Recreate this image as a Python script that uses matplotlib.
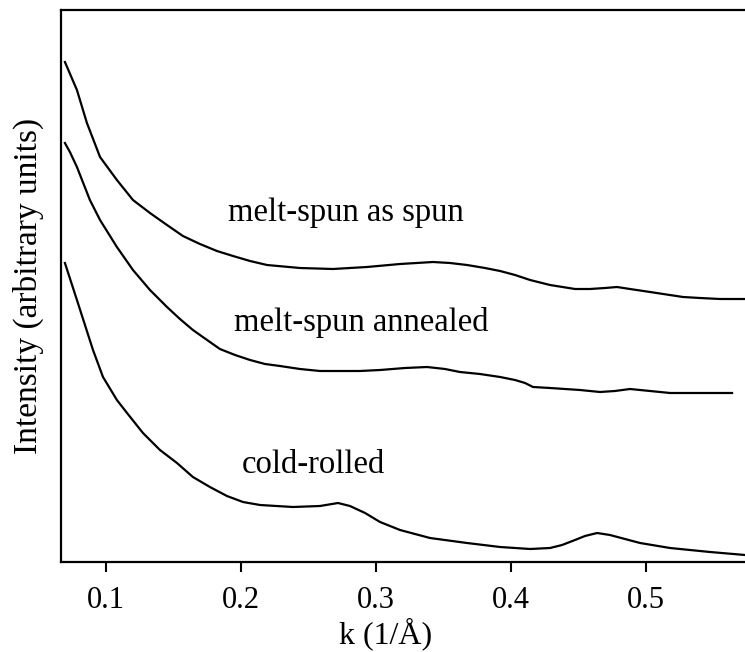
import matplotlib
matplotlib.use("Agg")
import matplotlib.pyplot as plt

# k (1/A) and intensity (arbitrary units)
k_spun = [0.0696, 0.0785, 0.0859, 0.0956, 0.1081, 0.1200, 0.1326, 0.1452, 0.1570, 0.1696,
          0.1822, 0.1941, 0.2067, 0.2193, 0.2437, 0.2681, 0.2933, 0.3178, 0.3422, 0.3548,
          0.3674, 0.3807, 0.3919, 0.4030, 0.4141, 0.4289, 0.4474, 0.4585, 0.4696, 0.4785,
          0.4881, 0.5030, 0.5274, 0.5400, 0.5548, 0.5733]
i_spun = [5.00, 4.72, 4.39, 4.05, 3.82, 3.62, 3.49, 3.37, 3.26, 3.18,
          3.11, 3.06, 3.01, 2.97, 2.94, 2.93, 2.95, 2.98, 3.00, 2.99,
          2.97, 2.94, 2.91, 2.87, 2.82, 2.77, 2.73, 2.73, 2.74, 2.75,
          2.73, 2.70, 2.65, 2.64, 2.63, 2.63]

k_ann = [0.0696, 0.0733, 0.0785, 0.0881, 0.0956, 0.1081, 0.1200, 0.1326, 0.1452, 0.1548,
         0.1644, 0.1770, 0.1844, 0.1956, 0.2067, 0.2178, 0.2289, 0.2437, 0.2585, 0.2733,
         0.2881, 0.3030, 0.3215, 0.3378, 0.3511, 0.3622, 0.3770, 0.3919, 0.4030, 0.4104,
         0.4163, 0.4289, 0.4511, 0.4659, 0.4770, 0.4881, 0.5030, 0.5178, 0.5400, 0.5637]
i_ann = [4.19, 4.10, 3.95, 3.62, 3.42, 3.15, 2.92, 2.72, 2.55, 2.43,
         2.32, 2.20, 2.13, 2.07, 2.02, 1.98, 1.96, 1.93, 1.91, 1.91,
         1.91, 1.92, 1.94, 1.95, 1.93, 1.90, 1.88, 1.85, 1.82, 1.79,
         1.75, 1.74, 1.72, 1.70, 1.71, 1.73, 1.71, 1.69, 1.69, 1.69]

k_cold = [0.0696, 0.0785, 0.0904, 0.0978, 0.1081, 0.1156, 0.1274, 0.1400, 0.1526, 0.1644,
          0.1770, 0.1896, 0.2015, 0.2141, 0.2385, 0.2585, 0.2719, 0.2807, 0.2919, 0.3030,
          0.3178, 0.3400, 0.3674, 0.3919, 0.4141, 0.4289, 0.4378, 0.4474, 0.4548, 0.4637,
          0.4733, 0.4844, 0.4956, 0.5178, 0.5474, 0.5733]
i_cold = [2.99, 2.62, 2.12, 1.85, 1.62, 1.49, 1.29, 1.12, 0.99, 0.85,
          0.75, 0.66, 0.60, 0.57, 0.55, 0.56, 0.59, 0.56, 0.49, 0.40,
          0.32, 0.24, 0.19, 0.15, 0.13, 0.14, 0.17, 0.22, 0.26, 0.29,
          0.27, 0.23, 0.19, 0.14, 0.10, 0.07]

labels = ["melt-spun as spun", "melt-spun annealed", "cold-rolled"]
label_pos = [(0.1904, 3.49), (0.1948, 2.39), (0.2007, 0.97)]
xticks = [0.1, 0.2, 0.3, 0.4, 0.5]

plt.rcParams['font.family'] = ['Liberation Serif', 'DejaVu Serif']

fig = plt.figure(figsize=(7.45, 6.52), dpi=100)
ax = fig.add_axes([61 / 745, 90 / 652, 684 / 745, 552 / 652])

for kk, ii in [(k_spun, i_spun), (k_ann, i_ann), (k_cold, i_cold)]:
    ax.plot(kk, ii, color='black', linewidth=1.6, solid_joinstyle='round')

for txt, (x, y) in zip(labels, label_pos):
    ax.text(x, y, txt, ha='left', va='center', fontsize=23.5)

ax.set_xlim(0.0667, 0.5733)
ax.set_ylim(0, 5.52)
ax.set_xticks(xticks)
ax.set_xticklabels([str(t) for t in xticks])
ax.set_yticks([])
ax.spines['right'].set_visible(False)
for s in ['left', 'top', 'bottom']:
    ax.spines[s].set_linewidth(1.6)
ax.tick_params(axis='x', direction='out', length=7, width=1.5, labelsize=22, pad=10)

ax.set_xlabel('k (1/Å)', fontsize=23)
ax.xaxis.set_label_coords(0.474, -0.1)
ax.set_ylabel('Intensity (arbitrary units)', fontsize=24)
ax.yaxis.set_label_coords(-0.025, 0.5)

fig.savefig('out.png', dpi=100)
